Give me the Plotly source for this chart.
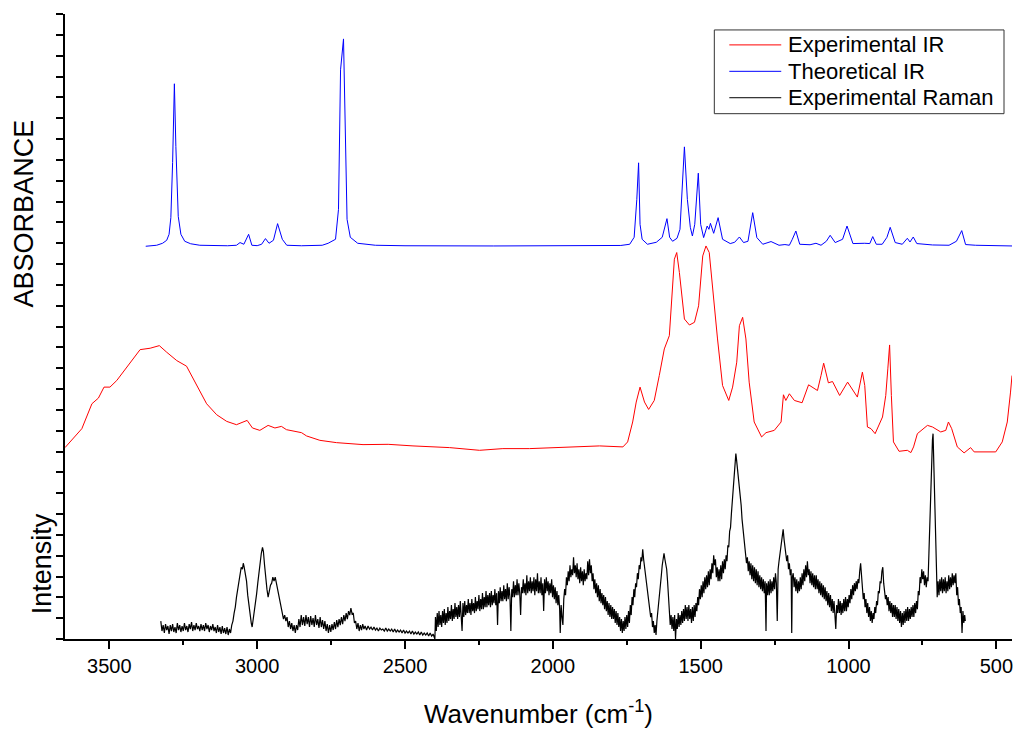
import plotly.graph_objects as go

# ---------------- data (arbitrary units) ----------------
ir_theo_wn = [3377, 3340, 3320, 3306, 3298, 3292, 3286, 3280, 3275, 3267, 3258, 3245, 3225, 3194,
              3100, 3070, 3058, 3045, 3029, 3018, 3000, 2985, 2972, 2960, 2945, 2931, 2915, 2900,
              2850, 2780, 2760, 2735, 2725, 2718, 2708, 2702, 2696, 2685, 2660, 2600, 2500, 2200,
              1900, 1770, 1740, 1725, 1716, 1710, 1705, 1698, 1680, 1650, 1630, 1614, 1605, 1595,
              1580, 1570, 1555, 1545, 1535, 1528, 1520, 1508, 1500, 1490, 1478, 1472, 1467, 1456,
              1441, 1426, 1400, 1385, 1369, 1355, 1340, 1324, 1310, 1290, 1262, 1235, 1215, 1200,
              1190, 1178, 1165, 1130, 1110, 1093, 1075, 1062, 1045, 1020, 1005, 985, 945, 928, 918,
              906, 886, 870, 859, 842, 818, 801, 792, 781, 769, 716, 660, 635, 617, 604, 570, 447]
ir_theo_abs = [394, 395, 397, 400, 406, 422.7, 478, 557, 494, 424, 406, 399, 396.5, 395,
               394.5, 395, 397.7, 396, 406, 395, 394.6, 396, 401.7, 397, 400, 416.7, 401, 395,
               394.5, 395, 397, 401, 431, 571, 602, 491, 421, 403, 397, 395, 394.5, 394.3,
               394.3, 394.8, 396, 403, 441, 477.7, 416, 401, 396, 398, 403, 421.7, 403, 399,
               402, 411, 493.7, 441, 413, 404.3, 416, 467.3, 416, 402.7, 414.3, 411, 417, 407,
               422.7, 401, 396.7, 398, 403.3, 397.7, 399, 427.7, 402.7, 396, 398.7, 395, 395.7, 395,
               401, 409.3, 396, 395.5, 397, 395, 399, 405, 397.7, 401, 414.3, 396.7, 397, 396.7, 403.7,
               396, 396, 403, 413, 397.7, 396, 402, 398.3, 403.3, 396.7, 395.3, 395, 399, 409.7, 395.7, 395, 394.3]

ir_exp_wn = [3650, 3622, 3593, 3559, 3537, 3518, 3498, 3475, 3436, 3396, 3362, 3331, 3306, 3272,
             3239, 3205, 3171, 3137, 3103, 3070, 3053, 3034, 3016, 2991, 2963, 2940, 2918, 2901,
             2850, 2833, 2788, 2732, 2642, 2557, 2473, 2349, 2248, 2169, 2079, 1842, 1763, 1747,
             1730, 1718, 1705, 1690, 1676, 1657, 1640, 1623, 1606, 1597, 1589, 1581, 1572, 1555,
             1538, 1521, 1507, 1493, 1482, 1471, 1460, 1443, 1426, 1405, 1392, 1378, 1369, 1358,
             1347, 1336, 1319, 1294, 1279, 1251, 1228, 1220, 1212, 1200, 1183, 1157, 1135, 1105,
             1093, 1084, 1068, 1054, 1030, 1003, 970, 961, 953, 945, 936, 924, 910, 885, 874, 867,
             861, 855, 848, 829, 801, 789, 780, 767, 733, 716, 688, 671, 662, 651, 632, 609, 587,
             575, 547, 502, 480, 463, 452, 447]
ir_exp_abs = [192, 201, 211, 236, 241.7, 252.7, 252.7, 259.3, 274.3, 290.3, 291.7, 294.3, 287.7, 279.3,
              273.7, 254.3, 236, 225, 218.3, 215, 216.7, 219.3, 211.7, 209.3, 214.3, 211.7, 213.3, 210,
              207, 203.7, 199.3, 197, 195, 195.3, 193.7, 192, 189.3, 191, 191, 193.7, 192.7, 197.7,
              217.7, 237.7, 252.7, 237.7, 230.3, 239.3, 264.3, 291, 304.3, 344.3, 381, 387.7, 367.7, 321,
              315, 317.7, 334.3, 384.3, 394.3, 387.7, 351, 301, 254.3, 239.3, 252.7, 277.7, 314.3, 322.7,
              301, 257.7, 217.7, 202.7, 207, 209.3, 217.7, 245, 239.3, 246, 239.3, 237, 255, 249.3,
              264.3, 276.7, 257, 258.3, 244.3, 257.7, 242.7, 257.7, 267.7, 254.3, 212.7, 211, 206, 222.7, 244.3, 271,
              295, 244.3, 197.7, 188.3, 189.3, 187, 192.7, 206, 214.3, 212.7, 207.7, 209.3, 217.7, 211, 192.7, 186.7, 192,
              187.7, 187.7, 187.7, 197.7, 217.7, 247.7, 264.3]

# Raman spectrum: (wavenumber, intensity) pairs, in segments
raman_high = [
    (3326, 18), (3322, 8), (3318, 14), (3314, 6), (3310, 15), (3306, 9), (3302, 13), (3298, 5), (3294, 14),
    (3290, 8), (3286, 15), (3282, 7), (3278, 12), (3274, 6), (3270, 16), (3266, 9), (3262, 14), (3258, 7),
    (3254, 13), (3250, 8), (3246, 16), (3242, 9), (3238, 13), (3234, 7), (3230, 15), (3226, 10), (3222, 17),
    (3218, 8), (3214, 14), (3210, 9), (3206, 16), (3202, 10), (3198, 13), (3194, 8), (3190, 15), (3186, 9),
    (3182, 14), (3178, 8), (3174, 16), (3170, 10), (3166, 14), (3162, 7), (3158, 13), (3154, 9), (3150, 15),
    (3146, 8), (3142, 12), (3138, 6), (3134, 14), (3130, 7), (3126, 12), (3122, 5), (3118, 13), (3114, 6),
    (3110, 11), (3106, 5), (3102, 12), (3098, 4), (3094, 10), (3090, 6), (3086, 14),
    (3082, 18), (3078, 26), (3074, 32), (3070, 42), (3066, 50), (3062, 60), (3058, 64), (3054, 72), (3050, 70),
    (3047, 76), (3044, 72), (3040, 66), (3036, 58), (3032, 44), (3028, 34), (3024, 22), (3020, 16), (3017, 12),
    (3014, 18), (3010, 26), (3006, 34), (3002, 45), (2998, 56), (2994, 68), (2990, 80), (2986, 86), (2982, 92),
    (2979, 88), (2975, 74), (2971, 60), (2967, 50), (2963, 42), (2959, 48), (2955, 54), (2951, 56), (2947, 62),
    (2943, 58), (2939, 62), (2935, 56), (2931, 50), (2927, 42), (2923, 38), (2919, 30), (2915, 26), (2911, 20),
    (2907, 24), (2903, 18), (2899, 22), (2895, 12), (2891, 18), (2887, 10), (2883, 16), (2879, 8), (2875, 14),
    (2871, 6), (2867, 14), (2863, 9),
    (2859, 20), (2855, 12), (2851, 24), (2847, 14), (2843, 22), (2839, 13), (2835, 24), (2831, 15), (2827, 22),
    (2823, 12), (2819, 23), (2815, 14), (2811, 21), (2807, 12), (2803, 24), (2799, 14), (2795, 20), (2791, 11),
    (2787, 22), (2783, 12), (2779, 19), (2775, 10), (2771, 18), (2767, 8), (2763, 15), (2759, 6), (2755, 14),
    (2751, 7), (2747, 15), (2743, 9), (2739, 17), (2735, 10), (2731, 19), (2727, 12), (2723, 20), (2719, 14),
    (2715, 22), (2711, 15), (2707, 24), (2703, 18), (2699, 26), (2695, 20), (2691, 28), (2687, 24), (2683, 31),
    (2679, 25), (2675, 26), (2671, 16), (2667, 18), (2663, 10), (2659, 16), (2655, 8), (2651, 14), (2647, 9),
    (2643, 15), (2639, 10), (2635, 13), (2630, 9), (2625, 13), (2620, 10), (2615, 12), (2610, 9), (2605, 12),
    (2600, 9), (2595, 11), (2590, 8), (2585, 11), (2580, 9), (2575, 10), (2570, 8), (2565, 11), (2560, 8),
    (2555, 10), (2550, 8), (2545, 10), (2540, 7), (2535, 10), (2530, 7), (2525, 9), (2520, 7), (2515, 9),
    (2510, 6), (2505, 9), (2500, 6), (2495, 8), (2490, 6), (2485, 8), (2480, 5), (2475, 8), (2470, 5),
    (2465, 7), (2460, 5), (2455, 7), (2450, 4), (2445, 7), (2440, 4), (2435, 6), (2430, 4), (2425, 6),
    (2420, 3), (2415, 6), (2410, 3), (2405, 5), (2401, 2), (2399, 0),
]
raman_mid = [
    (2397, 22), (2394, 8), (2391, 26), (2388, 12), (2385, 28), (2382, 14), (2379, 24), (2376, 12), (2373, 28),
    (2370, 16), (2367, 30), (2364, 14), (2361, 26), (2358, 16), (2355, 32), (2352, 18), (2349, 28), (2346, 20),
    (2343, 34), (2340, 18), (2337, 30), (2334, 20), (2331, 36), (2328, 22), (2325, 32), (2322, 20), (2319, 34),
    (2316, 22), (2313, 38), (2310, 24), (2307, 8), (2304, 36), (2301, 22), (2298, 38), (2295, 24), (2292, 34),
    (2289, 26), (2286, 40), (2283, 26), (2280, 36), (2277, 24), (2274, 40), (2271, 28), (2268, 36), (2265, 26),
    (2262, 42), (2259, 28), (2256, 38), (2253, 30), (2250, 44), (2247, 28), (2244, 40), (2241, 30), (2238, 46),
    (2235, 30), (2232, 42), (2229, 32), (2226, 48), (2223, 32), (2220, 44), (2217, 34), (2214, 46), (2211, 32),
    (2208, 48), (2205, 34), (2202, 44), (2199, 36), (2196, 50), (2193, 34), (2190, 46), (2187, 14), (2184, 48),
    (2181, 36), (2178, 52), (2175, 38), (2172, 48), (2169, 38), (2166, 54), (2163, 40), (2160, 50), (2157, 38),
    (2154, 56), (2151, 40), (2148, 52), (2145, 42), (2142, 8), (2139, 50), (2136, 42), (2133, 58), (2130, 42),
    (2127, 54), (2124, 44), (2121, 60), (2118, 44), (2115, 56), (2112, 46), (2109, 24), (2106, 52), (2103, 46),
    (2100, 60), (2097, 46), (2094, 56), (2091, 44), (2088, 64), (2085, 46), (2082, 58), (2079, 48), (2076, 62),
    (2073, 46), (2070, 58), (2067, 48), (2064, 62), (2061, 44), (2058, 60), (2055, 48), (2052, 66), (2049, 46),
    (2046, 58), (2043, 46), (2040, 62), (2037, 44), (2034, 56), (2031, 28), (2028, 60), (2025, 46), (2022, 62),
    (2019, 48), (2016, 58), (2013, 44), (2010, 56), (2007, 46), (2004, 60), (2001, 42), (1998, 54), (1995, 40),
    (1992, 52), (1989, 36), (1986, 48), (1983, 34), (1980, 44), (1977, 30), (1975, 6), (1972, 34), (1969, 22),
    (1966, 14), (1963, 40), (1960, 50), (1957, 44), (1954, 62), (1951, 54), (1948, 68), (1945, 58), (1942, 74),
    (1939, 62), (1936, 70), (1933, 64), (1930, 82), (1927, 66), (1924, 74), (1921, 62), (1918, 76), (1915, 60),
    (1912, 70), (1909, 56), (1906, 72), (1903, 58), (1900, 68), (1897, 54), (1894, 70), (1891, 58), (1888, 66),
    (1885, 60),
]
raman_low = [
    (1882, 78), (1879, 64), (1876, 80), (1873, 66), (1870, 74), (1867, 58), (1864, 66), (1861, 50), (1858, 60),
    (1855, 46), (1852, 56), (1849, 42), (1846, 54), (1843, 38), (1840, 50), (1837, 36), (1834, 46), (1831, 34),
    (1828, 44), (1825, 30), (1822, 42), (1819, 28), (1816, 38), (1813, 24), (1810, 36), (1807, 22), (1804, 34),
    (1801, 20), (1798, 32), (1795, 20), (1792, 30), (1789, 16), (1786, 28), (1783, 14), (1780, 26), (1777, 12),
    (1774, 22), (1771, 8), (1768, 20), (1765, 6), (1762, 18), (1759, 8), (1756, 22), (1753, 10), (1750, 24),
    (1747, 12), (1744, 28), (1741, 16), (1738, 34), (1735, 24), (1732, 42), (1729, 34), (1726, 50), (1723, 42),
    (1720, 56), (1717, 52), (1714, 66), (1711, 60), (1708, 74), (1705, 70), (1702, 82), (1699, 78), (1696, 90),
    (1693, 80), (1690, 72), (1687, 66), (1684, 60), (1681, 50), (1678, 44), (1675, 34), (1672, 30), (1669, 22),
    (1666, 26), (1663, 12), (1660, 18), (1657, 6), (1654, 14), (1651, 4), (1648, 18), (1645, 26), (1642, 36),
    (1639, 44), (1636, 56), (1633, 64), (1630, 74), (1627, 80), (1624, 86), (1621, 80), (1618, 76), (1615, 70),
    (1612, 58), (1609, 40), (1606, 26), (1603, 14), (1600, 24), (1597, 10), (1594, 22), (1591, 8), (1588, 24),
    (1585, 0), (1582, 20), (1579, 10), (1576, 26), (1573, 12), (1570, 24), (1567, 14), (1564, 28), (1561, 16),
    (1558, 30), (1555, 18), (1552, 34), (1549, 20), (1546, 32), (1543, 18), (1540, 34), (1537, 20), (1534, 30),
    (1531, 16), (1528, 32), (1525, 18), (1522, 34), (1519, 22), (1516, 36), (1513, 28), (1510, 42), (1507, 34),
    (1504, 50), (1501, 40), (1498, 54), (1495, 42), (1492, 58), (1489, 46), (1486, 62), (1483, 50), (1480, 64),
    (1477, 52), (1474, 68), (1471, 54), (1468, 70), (1465, 60), (1462, 76), (1459, 66), (1456, 84), (1453, 74),
    (1450, 80), (1447, 62), (1444, 72), (1441, 58), (1438, 70), (1435, 58), (1432, 74), (1429, 60), (1426, 78),
    (1423, 66), (1420, 80), (1417, 70), (1414, 84), (1411, 78), (1408, 94), (1405, 92), (1402, 108), (1399, 112),
    (1396, 126), (1393, 140), (1390, 150), (1387, 168), (1384, 176), (1381, 186), (1378, 178), (1375, 170),
    (1372, 162), (1369, 156), (1366, 146), (1363, 134), (1360, 120), (1357, 110), (1354, 104), (1351, 94),
    (1348, 86), (1345, 76), (1342, 82), (1339, 68), (1336, 78), (1333, 64), (1330, 76), (1327, 60), (1324, 74),
    (1321, 58), (1318, 72), (1315, 56), (1312, 70), (1309, 54), (1306, 68), (1303, 52), (1300, 64), (1297, 50),
    (1294, 62), (1291, 48), (1288, 60), (1285, 46), (1282, 58), (1279, 8), (1277, 56), (1274, 44), (1271, 58),
    (1268, 44), (1265, 60), (1262, 46), (1259, 58), (1256, 48), (1253, 62), (1250, 50), (1247, 66), (1244, 56),
    (1241, 18), (1238, 70), (1235, 78), (1232, 84), (1229, 92), (1226, 96), (1223, 104), (1221, 110), (1218, 100),
    (1215, 90), (1212, 84), (1209, 78), (1206, 84), (1203, 70), (1200, 76), (1197, 64), (1194, 70), (1192, 6),
    (1190, 62), (1187, 66), (1184, 52), (1181, 62), (1178, 48), (1175, 60), (1172, 46), (1169, 58), (1166, 48),
    (1163, 62), (1160, 50), (1157, 66), (1154, 54), (1151, 70), (1148, 58), (1145, 74), (1142, 62), (1139, 78),
    (1136, 64), (1133, 70), (1130, 56), (1127, 68), (1124, 54), (1121, 66), (1118, 52), (1115, 64), (1112, 50),
    (1109, 64), (1106, 50), (1103, 60), (1100, 46), (1097, 58), (1094, 44), (1091, 56), (1088, 42), (1085, 54),
    (1082, 40), (1079, 52), (1076, 38), (1073, 48), (1070, 34), (1067, 46), (1064, 32), (1061, 44), (1058, 28),
    (1055, 40), (1052, 26), (1049, 38), (1046, 24), (1043, 10), (1040, 34), (1037, 26), (1034, 40), (1031, 26),
    (1028, 38), (1025, 24), (1022, 36), (1019, 26), (1016, 40), (1013, 28), (1010, 42), (1007, 28), (1004, 40),
    (1001, 32), (998, 44), (995, 36), (992, 50), (989, 40), (986, 54), (983, 44), (980, 56), (977, 48), (974, 58),
    (971, 50), (968, 60), (965, 56), (962, 68), (959, 76), (956, 64), (953, 52), (950, 40), (947, 46), (944, 32),
    (941, 40), (938, 26), (935, 36), (932, 22), (929, 32), (926, 18), (923, 28), (920, 16), (917, 26), (914, 20),
    (911, 32), (908, 26), (905, 38), (902, 34), (899, 48), (896, 46), (893, 58), (890, 56), (887, 68), (884, 72),
    (881, 56), (878, 50), (875, 40), (872, 44), (869, 34), (866, 42), (863, 28), (860, 38), (857, 26), (854, 36),
    (851, 22), (848, 34), (845, 22), (842, 34), (839, 20), (836, 32), (833, 18), (830, 30), (827, 16), (824, 28),
    (821, 12), (818, 26), (815, 14), (812, 28), (809, 16), (806, 30), (803, 18), (800, 32), (797, 18), (794, 30),
    (791, 20), (788, 32), (785, 22), (782, 34), (779, 22), (776, 36), (773, 26), (770, 38), (767, 30), (764, 48),
    (761, 44), (758, 62), (755, 56), (752, 70), (749, 60), (746, 68), (743, 54), (740, 64), (737, 52), (734, 62),
    (731, 58), (728, 86), (725, 118), (722, 156), (719, 186), (716, 200), (714, 206), (712, 184), (710, 160),
    (708, 136), (706, 110), (704, 80), (702, 52), (700, 42), (697, 58), (694, 44), (691, 60), (688, 48), (685, 62),
    (682, 46), (679, 60), (676, 48), (673, 62), (670, 46), (667, 58), (664, 48), (661, 64), (658, 50), (655, 62),
    (652, 52), (649, 66), (646, 54), (643, 64), (640, 56), (637, 66), (634, 44), (631, 52), (628, 34), (625, 40),
    (622, 26), (619, 32), (616, 6), (613, 28), (610, 16), (607, 24), (605, 18),
]
raman_wn = [p[0] for p in raman_high + raman_mid + raman_low]
raman_int = [p[1] for p in raman_high + raman_mid + raman_low]

x_tick_vals = [3500, 3000, 2500, 2000, 1500, 1000, 500]
x_tick_text = ["3500", "3000", "2500", "2000", "1500", "1000", "500"]
legend_names = ["Experimental IR", "Theoretical IR", "Experimental Raman"]
legend_colors = ["#ff0000", "#0000ff", "#000000"]

FONT = "Liberation Sans, Arial, sans-serif"

# plot-area geometry in pixels (for placing annotations / legend)
L, R, T, B = 65, 1013, 14, 641


def px(xp):
    return (xp - L) / (R - L)


def py(yp):
    return (B - yp) / (B - T)


fig = go.Figure()
fig.add_trace(go.Scatter(x=ir_exp_wn, y=ir_exp_abs, mode="lines", name=legend_names[0],
                         line=dict(color=legend_colors[0], width=1), showlegend=False))
fig.add_trace(go.Scatter(x=ir_theo_wn, y=ir_theo_abs, mode="lines", name=legend_names[1],
                         line=dict(color=legend_colors[1], width=1), showlegend=False))
fig.add_trace(go.Scatter(x=raman_wn, y=raman_int, mode="lines", name=legend_names[2],
                         line=dict(color=legend_colors[2], width=1.2), showlegend=False))

fig.update_layout(
    width=1017, height=729,
    margin=dict(l=L, r=1017 - R, t=T, b=729 - B),
    plot_bgcolor="white", paper_bgcolor="white",
    font=dict(family=FONT, color="black"),
    showlegend=False,
)
fig.update_xaxes(range=[3650, 447], tickvals=x_tick_vals, ticktext=x_tick_text,
                 showline=True, linecolor="black", linewidth=2, mirror=False,
                 ticks="outside", ticklen=8, tickwidth=2, tickcolor="black",
                 minor=dict(tickvals=[3250, 2750, 2250, 1750, 1250, 750], ticks="outside",
                            ticklen=4, tickwidth=2, tickcolor="black"),
                 showgrid=False, zeroline=False, tickfont=dict(size=20, family=FONT),
                 title=dict(text="Wavenumber (cm<sup>-1</sup>)", font=dict(size=26, family=FONT),
                            standoff=30))
fig.update_yaxes(range=[0, 627], tick0=0, dtick=20.9, showticklabels=False,
                 showline=True, linecolor="black", linewidth=2,
                 ticks="outside", ticklen=7, tickwidth=2, tickcolor="black",
                 showgrid=False, zeroline=False)

fig.add_annotation(text="ABSORBANCE", xref="paper", yref="paper",
                   x=px(24), y=py(214), showarrow=False, textangle=-90,
                   xanchor="center", yanchor="middle", font=dict(size=27, family=FONT))
fig.add_annotation(text="Intensity", xref="paper", yref="paper",
                   x=px(42), y=py(566), showarrow=False, textangle=-90,
                   xanchor="center", yanchor="middle", font=dict(size=27, family=FONT))

# legend box drawn as in the reference (box, line samples, labels)
fig.add_shape(type="rect", xref="paper", yref="paper", x0=px(715), x1=px(1005),
              y0=py(114), y1=py(30), line=dict(color="#333333", width=1), fillcolor="white",
              layer="above")
row_y = [45, 71.5, 98]
for name, color, ry in zip(legend_names, legend_colors, row_y):
    fig.add_shape(type="line", xref="paper", yref="paper", x0=px(730), x1=px(782),
                  y0=py(ry), y1=py(ry), line=dict(color=color, width=1), layer="above")
    fig.add_annotation(text=name, xref="paper", yref="paper", x=px(787), y=py(ry),
                       showarrow=False, xanchor="left", yanchor="middle",
                       font=dict(size=22, family=FONT))

fig.write_html("out.html")
